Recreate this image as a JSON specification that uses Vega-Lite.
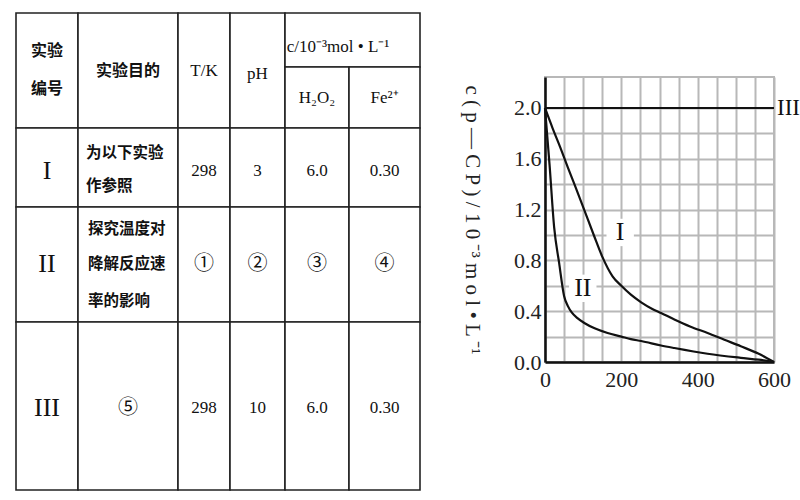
{
  "$schema": "https://vega.github.io/schema/vega-lite/v6.json",
  "padding": {"left": 15, "top": 12, "right": 0, "bottom": 5},
  "background": "white",
  "config": {
    "view": {"stroke": "#b8b8b8", "strokeWidth": 2},
    "concat": {"spacing": 39}
  },
  "datasets": {
    "cells": [
      {"c0": 0, "c1": 62, "r0": 0, "r1": 115},
      {"c0": 62, "c1": 162, "r0": 0, "r1": 115},
      {"c0": 162, "c1": 214, "r0": 0, "r1": 115},
      {"c0": 214, "c1": 269, "r0": 0, "r1": 115},
      {"c0": 269, "c1": 404, "r0": 0, "r1": 54},
      {"c0": 269, "c1": 333, "r0": 54, "r1": 115},
      {"c0": 333, "c1": 404, "r0": 54, "r1": 115},
      {"c0": 0, "c1": 62, "r0": 115, "r1": 194},
      {"c0": 62, "c1": 162, "r0": 115, "r1": 194},
      {"c0": 162, "c1": 214, "r0": 115, "r1": 194},
      {"c0": 214, "c1": 269, "r0": 115, "r1": 194},
      {"c0": 269, "c1": 333, "r0": 115, "r1": 194},
      {"c0": 333, "c1": 404, "r0": 115, "r1": 194},
      {"c0": 0, "c1": 62, "r0": 194, "r1": 309},
      {"c0": 62, "c1": 162, "r0": 194, "r1": 309},
      {"c0": 162, "c1": 214, "r0": 194, "r1": 309},
      {"c0": 214, "c1": 269, "r0": 194, "r1": 309},
      {"c0": 269, "c1": 333, "r0": 194, "r1": 309},
      {"c0": 333, "c1": 404, "r0": 194, "r1": 309},
      {"c0": 0, "c1": 62, "r0": 309, "r1": 477},
      {"c0": 62, "c1": 162, "r0": 309, "r1": 477},
      {"c0": 162, "c1": 214, "r0": 309, "r1": 477},
      {"c0": 214, "c1": 269, "r0": 309, "r1": 477},
      {"c0": 269, "c1": 333, "r0": 309, "r1": 477},
      {"c0": 333, "c1": 404, "r0": 309, "r1": 477}
    ],
    "texts": [
      {"t": "实验", "x": 31, "y": 38, "k": "cjk"},
      {"t": "编号", "x": 31, "y": 76, "k": "cjk"},
      {"t": "实验目的", "x": 112, "y": 58, "k": "cjk"},
      {"t": "T/K", "x": 188, "y": 58, "k": "serif"},
      {"t": "pH", "x": 241.5, "y": 61, "k": "serif"},
      {"t": "c/10⁻³mol • L⁻¹", "x": 322, "y": 34, "k": "serif"},
      {"t": "H₂O₂", "x": 301, "y": 85, "k": "serif"},
      {"t": "Fe²⁺", "x": 368.5, "y": 85, "k": "serif"},
      {"t": "I", "x": 31, "y": 158, "k": "roman"},
      {"t": "为以下实验", "x": 70, "y": 140, "k": "cjkLeft"},
      {"t": "作参照", "x": 70, "y": 173, "k": "cjkLeft"},
      {"t": "298", "x": 188, "y": 158, "k": "serif"},
      {"t": "3", "x": 241.5, "y": 158, "k": "serif"},
      {"t": "6.0", "x": 301, "y": 158, "k": "serif"},
      {"t": "0.30", "x": 368.5, "y": 158, "k": "serif"},
      {"t": "II", "x": 31, "y": 251, "k": "roman"},
      {"t": "探究温度对", "x": 72, "y": 216, "k": "cjkLeft"},
      {"t": "降解反应速", "x": 72, "y": 251, "k": "cjkLeft"},
      {"t": "率的影响", "x": 72, "y": 288, "k": "cjkLeft"},
      {"t": "①", "x": 188, "y": 251, "k": "circ"},
      {"t": "②", "x": 241.5, "y": 251, "k": "circ"},
      {"t": "③", "x": 301, "y": 251, "k": "circ"},
      {"t": "④", "x": 368.5, "y": 251, "k": "circ"},
      {"t": "III", "x": 31, "y": 395, "k": "roman"},
      {"t": "⑤", "x": 112, "y": 395, "k": "circ"},
      {"t": "298", "x": 188, "y": 395, "k": "serif"},
      {"t": "10", "x": 241.5, "y": 395, "k": "serif"},
      {"t": "6.0", "x": 301, "y": 395, "k": "serif"},
      {"t": "0.30", "x": 368.5, "y": 395, "k": "serif"}
    ],
    "curves": [
      {"s": "I", "t": 0, "c": 2.0},
      {"s": "I", "t": 20, "c": 1.84},
      {"s": "I", "t": 40, "c": 1.69},
      {"s": "I", "t": 60, "c": 1.53},
      {"s": "I", "t": 77, "c": 1.4},
      {"s": "I", "t": 100, "c": 1.22},
      {"s": "I", "t": 129, "c": 0.99},
      {"s": "I", "t": 150, "c": 0.83},
      {"s": "I", "t": 177, "c": 0.675},
      {"s": "I", "t": 200, "c": 0.6},
      {"s": "I", "t": 225, "c": 0.53},
      {"s": "I", "t": 252, "c": 0.47},
      {"s": "I", "t": 280, "c": 0.42},
      {"s": "I", "t": 304, "c": 0.386},
      {"s": "I", "t": 339, "c": 0.335},
      {"s": "I", "t": 380, "c": 0.28},
      {"s": "I", "t": 426, "c": 0.228},
      {"s": "I", "t": 470, "c": 0.175},
      {"s": "I", "t": 513, "c": 0.124},
      {"s": "I", "t": 560, "c": 0.065},
      {"s": "I", "t": 600, "c": 0.0},
      {"s": "II", "t": 0, "c": 2.0},
      {"s": "II", "t": 12, "c": 1.55},
      {"s": "II", "t": 24, "c": 1.06},
      {"s": "II", "t": 37, "c": 0.78},
      {"s": "II", "t": 50, "c": 0.52},
      {"s": "II", "t": 60, "c": 0.44},
      {"s": "II", "t": 70, "c": 0.39},
      {"s": "II", "t": 85, "c": 0.345},
      {"s": "II", "t": 103, "c": 0.307},
      {"s": "II", "t": 130, "c": 0.265},
      {"s": "II", "t": 164, "c": 0.228},
      {"s": "II", "t": 200, "c": 0.2},
      {"s": "II", "t": 225, "c": 0.18},
      {"s": "II", "t": 252, "c": 0.165},
      {"s": "II", "t": 304, "c": 0.13},
      {"s": "II", "t": 339, "c": 0.11},
      {"s": "II", "t": 426, "c": 0.065},
      {"s": "II", "t": 513, "c": 0.033},
      {"s": "II", "t": 560, "c": 0.018},
      {"s": "II", "t": 600, "c": 0.0},
      {"s": "III", "t": 0, "c": 2.0},
      {"s": "III", "t": 600, "c": 2.0}
    ],
    "labels": [
      {"label": "I", "t": 197, "c": 1.02},
      {"label": "II", "t": 99, "c": 0.58},
      {"label": "III", "t": 600, "c": 2.0}
    ]
  },
  "hconcat": [
    {
      "width": 404,
      "height": 477,
      "view": {"stroke": null},
      "layer": [
        {
          "data": {"name": "cells"},
          "mark": {"type": "rect", "fill": "white", "stroke": "#222", "strokeWidth": 1.6},
          "encoding": {
            "x": {"field": "c0", "type": "quantitative", "scale": {"domain": [0, 404], "nice": false, "zero": false}, "axis": null},
            "x2": {"field": "c1"},
            "y": {"field": "r0", "type": "quantitative", "scale": {"domain": [0, 477], "nice": false, "reverse": true}, "axis": null},
            "y2": {"field": "r1"}
          }
        },
        {
          "data": {"name": "texts"},
          "transform": [{"filter": "datum.k == 'cjk'"}],
          "mark": {"type": "text", "font": "Noto Sans CJK SC", "fontSize": 16, "fontWeight": "bold", "align": "center", "baseline": "middle", "color": "#111"},
          "encoding": {
            "x": {"field": "x", "type": "quantitative"},
            "y": {"field": "y", "type": "quantitative"},
            "text": {"field": "t"}
          }
        },
        {
          "data": {"name": "texts"},
          "transform": [{"filter": "datum.k == 'cjkLeft'"}],
          "mark": {"type": "text", "font": "Noto Sans CJK SC", "fontSize": 15.5, "fontWeight": "bold", "align": "left", "baseline": "middle", "color": "#111"},
          "encoding": {
            "x": {"field": "x", "type": "quantitative"},
            "y": {"field": "y", "type": "quantitative"},
            "text": {"field": "t"}
          }
        },
        {
          "data": {"name": "texts"},
          "transform": [{"filter": "datum.k == 'serif'"}],
          "mark": {"type": "text", "font": "Liberation Serif", "fontSize": 17, "align": "center", "baseline": "middle", "color": "#111"},
          "encoding": {
            "x": {"field": "x", "type": "quantitative"},
            "y": {"field": "y", "type": "quantitative"},
            "text": {"field": "t"}
          }
        },
        {
          "data": {"name": "texts"},
          "transform": [{"filter": "datum.k == 'roman'"}],
          "mark": {"type": "text", "font": "Liberation Serif", "fontSize": 26, "align": "center", "baseline": "middle", "color": "#111"},
          "encoding": {
            "x": {"field": "x", "type": "quantitative"},
            "y": {"field": "y", "type": "quantitative"},
            "text": {"field": "t"}
          }
        },
        {
          "data": {"name": "texts"},
          "transform": [{"filter": "datum.k == 'circ'"}],
          "mark": {"type": "text", "font": "Noto Sans CJK SC", "fontSize": 20, "align": "center", "baseline": "middle", "color": "#111"},
          "encoding": {
            "x": {"field": "x", "type": "quantitative"},
            "y": {"field": "y", "type": "quantitative"},
            "text": {"field": "t"}
          }
        }
      ]
    },
    {
      "spacing": 0,
      "vconcat": [
        {
          "width": 229,
          "height": 62,
          "view": {"stroke": null},
          "data": {"values": [{"t": ""}]},
          "mark": {"type": "text"},
          "encoding": {"text": {"field": "t"}}
        },
        {
          "width": 229,
          "height": 285,
          "encoding": {
            "x": {
              "field": "t", "type": "quantitative",
              "scale": {"domain": [0, 600], "nice": false},
              "axis": {
                "title": null,
                "values": [0, 50, 100, 150, 200, 250, 300, 350, 400, 450, 500, 550, 600],
                "labelExpr": "round(datum.value) % 200 == 0 ? datum.label : ''",
                "labelFlush": false,
                "grid": true, "gridColor": "#b8b8b8", "gridWidth": 2,
                "domainColor": "#111", "domainWidth": 2.5,
                "ticks": false,
                "labelFont": "Liberation Serif", "labelFontSize": 22, "labelColor": "#222",
                "labelPadding": 7
              }
            },
            "y": {
              "field": "c", "type": "quantitative",
              "scale": {"domain": [0, 2.244], "nice": false},
              "axis": {
                "title": "c ( p — C P ) /  1 0 ⁻³ m o l  •  L ⁻¹",
                "titleAngle": 90,
                "titleFont": "Liberation Serif", "titleFontSize": 21, "titleFontWeight": "normal", "titleColor": "#222",
                "titlePadding": 52,
                "values": [0, 0.2, 0.4, 0.6, 0.8, 1.0, 1.2, 1.4, 1.6, 1.8, 2.0],
                "labelExpr": "round(datum.value * 10) % 4 == 0 ? format(datum.value, '.1f') : ''",
                "grid": true, "gridColor": "#b8b8b8", "gridWidth": 2,
                "domainColor": "#111", "domainWidth": 2.5,
                "ticks": false,
                "labelFont": "Liberation Serif", "labelFontSize": 22, "labelColor": "#222",
                "labelPadding": 4
              }
            }
          },
          "layer": [
            {
              "data": {"name": "labels"},
              "transform": [{"filter": "datum.label != 'III'"}],
              "mark": {"type": "square", "color": "white", "filled": true, "opacity": 1, "size": 750}
            },
            {
              "data": {"name": "curves"},
              "mark": {"type": "line", "color": "#111", "strokeWidth": 2.2, "interpolate": "monotone"},
              "encoding": {
                "detail": {"field": "s"},
                "order": {"field": "t"}
              }
            },
            {
              "data": {"name": "labels"},
              "transform": [{"filter": "datum.label != 'III'"}],
              "mark": {"type": "text", "font": "Liberation Serif", "fontSize": 26, "align": "center", "baseline": "middle", "color": "#111"},
              "encoding": {
                "text": {"field": "label"}
              }
            },
            {
              "data": {"name": "labels"},
              "transform": [{"filter": "datum.label == 'III'"}],
              "mark": {"type": "text", "font": "Liberation Serif", "fontSize": 23, "align": "left", "baseline": "middle", "dx": 3, "color": "#111"},
              "encoding": {
                "text": {"field": "label"}
              }
            }
          ]
        }
      ]
    }
  ]
}
